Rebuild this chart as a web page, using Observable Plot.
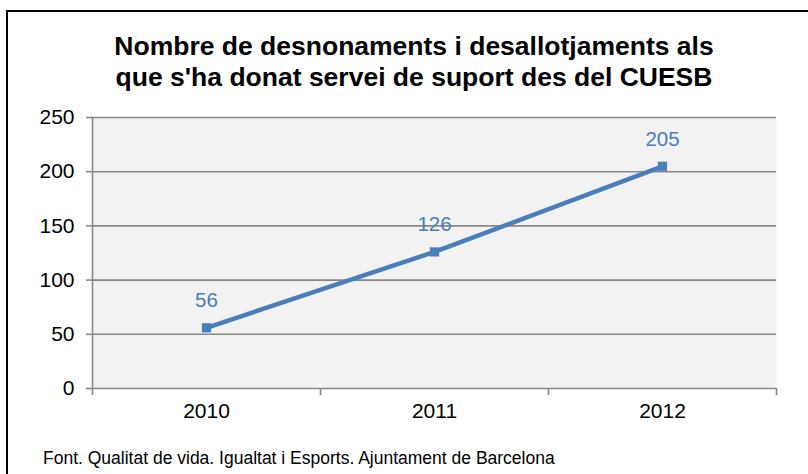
<!DOCTYPE html>
<html>
<head>
<meta charset="utf-8">
<script src="https://cdn.jsdelivr.net/npm/d3@7"></script>
<script src="https://cdn.jsdelivr.net/npm/@observablehq/plot@0.6"></script>
<style>
  html, body { margin: 0; padding: 0; background: #fff; }
  #wrap { position: relative; width: 808px; height: 474px; overflow: hidden; font-family: "Liberation Sans", Arial, sans-serif; }
  #border { position: absolute; left: 6px; top: 10px; width: 820px; height: 480px; border: 2px solid #000; box-sizing: border-box; }
  #title { position: absolute; left: 0; top: 31px; width: 828px; text-align: center; font-weight: bold; font-size: 26.5px; line-height: 31px; color: #000; }
  #chart { position: absolute; left: 0; top: 0; }
  #footer { position: absolute; left: 43px; top: 448px; font-size: 17.5px; color: #000; white-space: nowrap; }
</style>
</head>
<body>
<div id="wrap">
  <div id="border"></div>
  <div id="title">Nombre de desnonaments i desallotjaments als<br>que s'ha donat servei de suport des del CUESB</div>
  <div id="chart"></div>
  <div id="footer">Font. Qualitat de vida. Igualtat i Esports. Ajuntament de Barcelona</div>
</div>
<script>
const years = [2010, 2011, 2012];
const values = [56, 126, 205];
const yTicks = [0, 50, 100, 150, 200, 250];

const data = years.map((y, i) => ({year: y, value: values[i]}));
const boundaries = [years[0] - 0.5, ...years.map(y => y + 0.5)];

const blue = "#4a7ebb";
const grid = "#878787";

const chart = Plot.plot({
  width: 808,
  height: 420,
  marginLeft: 92,
  marginRight: 32,
  marginTop: 117,
  marginBottom: 32,
  style: {fontFamily: "Liberation Sans, Arial, sans-serif", background: "transparent", overflow: "visible"},
  x: {type: "linear", domain: [years[0] - 0.5, years[years.length - 1] + 0.5]},
  y: {domain: [0, 250]},
  marks: [
    Plot.frame({fill: "#f2f2f2", stroke: null}),
    Plot.gridY(yTicks, {stroke: grid, strokeOpacity: 1, strokeWidth: 1.6}),
    Plot.ruleX([boundaries[0]], {stroke: grid, strokeWidth: 1.6}),
    Plot.axisY({ticks: yTicks, tickSize: 6, tickPadding: 12, fontSize: 21, stroke: grid, strokeWidth: 1.6, color: "#000", label: null, tickFormat: d => String(d)}),
    Plot.axisX({ticks: boundaries, tickSize: 7, tickFormat: () => "", stroke: grid, strokeWidth: 1.6, label: null}),
    Plot.axisX({ticks: years, tickSize: 0, tickPadding: 15, fontSize: 21, color: "#000", label: null, tickFormat: d => String(d)}),
    Plot.line(data, {x: "year", y: "value", stroke: blue, strokeWidth: 4.5}),
    Plot.dot(data, {x: "year", y: "value", symbol: "square", r: 5.2, fill: blue, stroke: null}),
    Plot.text(data, {x: "year", y: "value", text: d => String(d.value), dy: -27, fontSize: 20.5, fill: blue})
  ]
});
document.getElementById("chart").appendChild(chart);
</script>
</body>
</html>
